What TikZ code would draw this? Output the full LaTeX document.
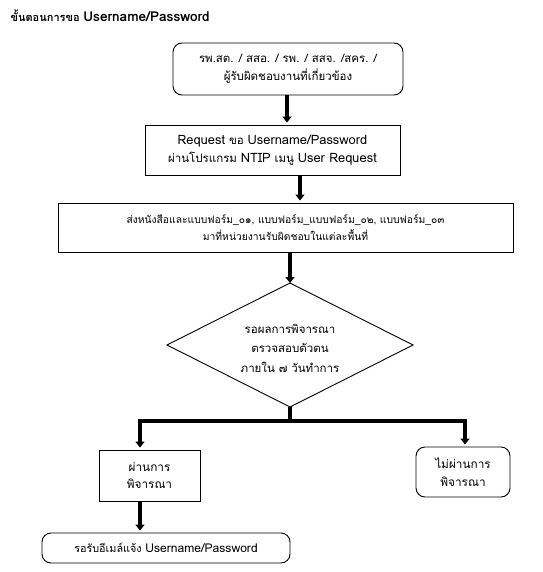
\documentclass[tikz,border=0pt]{standalone}
\usepackage{fontspec}
\setmainfont[Script=Thai]{Loma}
\newfontfamily\latf[Scale=1.12]{Loma}
\usetikzlibrary{arrows.meta}
\begin{document}
\begin{tikzpicture}[x=1pt,y=-1pt,
  box/.style={draw, line width=0.9pt, align=center, inner sep=0pt, font=\fontsize{11.5}{18}\selectfont},
  rbox/.style={box, rounded corners=9pt},
  conn/.style={line width=3.6pt},
  arr/.style={line width=3.6pt, line join=miter, -{Triangle[width=9pt,length=6pt]}, shorten >=2pt},
  ]
\useasboundingbox (0,0) rectangle (542,572);
\node[anchor=west, font=\fontsize{11}{13}\selectfont\bfseries] (title) at (7,16) {ขั้นตอนการขอ {\fontsize{13.6}{15}\selectfont Username/Password}};

\node[rbox, minimum width=230pt, minimum height=52pt] (b1) at (288,69)
  {รพ.สต. / สสอ. / รพ. / สสจ. /สคร. /\\ผู้รับผิดชอบงานที่เกี่ยวข้อง};
\node[box, minimum width=255pt, minimum height=50pt] (b2) at (272.5,150)
  {{\latf Request} ขอ {\latf Username/Password}\\ผ่านโปรแกรม {\latf NTIP} เมนู {\latf User Request}};
\node[box, minimum width=455pt, minimum height=49pt, font=\fontsize{10.3}{17.5}\selectfont] (b3) at (285.5,227.5)
  {ส่งหนังสือและแบบฟอร์ม\_๐๑, แบบฟอร์ม\_แบบฟอร์ม\_๐๒, แบบฟอร์ม\_๐๓\\มาที่หน่วยงานรับผิดชอบในแต่ละพื้นที่};

\coordinate (dt) at (290,283);
\coordinate (dl) at (167,345);
\coordinate (dr) at (413,345);
\coordinate (db) at (290,407);
\draw[line width=0.9pt] (dt) -- (dr) -- (db) -- (dl) -- cycle;
\node[align=center, font=\fontsize{11.5}{19.5}\selectfont] (dtext) at (290,348)
  {รอผลการพิจารณา\\ตรวจสอบตัวตน\\ภายใน ๗ วันทำการ};

\node[box, minimum width=101pt, minimum height=51pt, font=\fontsize{11.8}{17.5}\selectfont] (b4) at (149.5,475.5)
  {ผ่านการ\\พิจารณา};
\node[rbox, minimum width=94pt, minimum height=50pt, font=\fontsize{11.8}{18}\selectfont] (b5) at (463,472)
  {ไม่ผ่านการ\\พิจารณา};
\node[rbox, minimum width=248pt, minimum height=30pt, font=\fontsize{10.8}{13}\selectfont] (b6) at (166,548)
  {รอรับอีเมล์แจ้ง {\latf Username/Password}};

\draw[arr] ([xshift=-1pt]b1.south) -- ([xshift=-1pt]b1.south |- b2.north);
\draw[arr] ([xshift=27.5pt]b2.south) -- ([xshift=27.5pt]b2.south |- b3.north);
\draw[arr,shorten >=0pt] ([xshift=4.5pt]b3.south) -- (dt);
\coordinate (j) at (290,421);
\draw[conn] (db) -- (j);
\draw[arr] ([xshift=1.8pt]j) -| ([xshift=-9.5pt]b4.north);
\draw[arr] ([xshift=-1.8pt]j) -| ([xshift=2pt]b5.north);
\draw[arr] ([xshift=-9.5pt]b4.south) -- ([xshift=-9.5pt]b4.south |- b6.north);
\end{tikzpicture}
\end{document}
